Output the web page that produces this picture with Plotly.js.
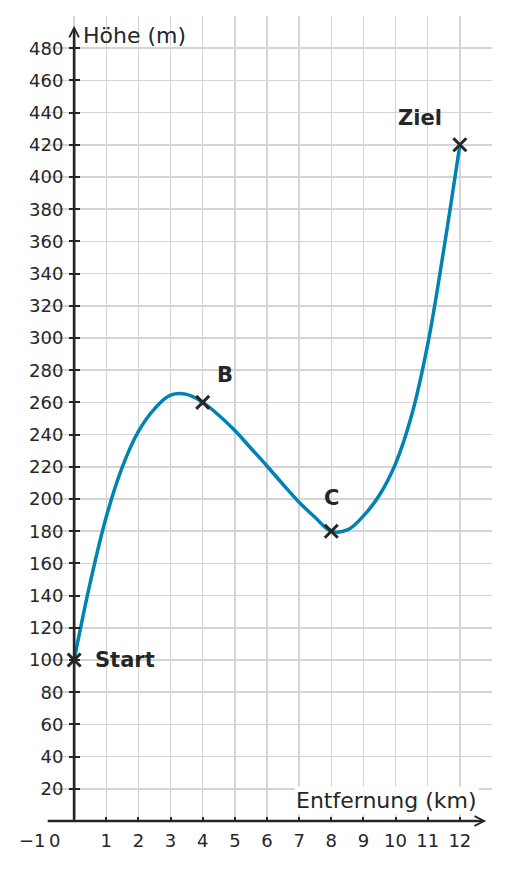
<!DOCTYPE html>
<html>
<head>
<meta charset="utf-8">
<script src="https://cdn.plot.ly/plotly-3.0.1.min.js"></script>
<style>
  body { margin: 0; background: #fff; }
  #hoehe { width: 510px; height: 870px; }
</style>
</head>
<body>
<div id="hoehe"></div>
<script>
  // Höhenprofil (alle 0,5 km)
  const entfernung = [0, 0.5, 1, 1.5, 2, 2.5, 3, 3.5, 4, 4.5, 5, 5.5, 6, 6.5, 7, 7.5, 8, 8.5, 9, 9.5, 10, 10.5, 11, 11.5, 12];
  const hoehe = [100, 148, 189, 220, 242, 256, 264.5, 265, 260, 252, 242.5, 231.5, 220.5, 209, 198, 188.5, 180, 180.8, 189.5, 202.5, 222, 252, 296, 355, 420];

  const punkteX = [0, 4, 8, 12];
  const punkteY = [100, 260, 180, 420];
  const punktNamen = ["Start", "B", "C", "Ziel"];

  const xTicks = [-1, 0, 1, 2, 3, 4, 5, 6, 7, 8, 9, 10, 11, 12];
  const yTicks = [20, 40, 60, 80, 100, 120, 140, 160, 180, 200, 220, 240, 260, 280, 300, 320, 340, 360, 380, 400, 420, 440, 460, 480];

  const dunkel = "#262626";
  const schrift = "DejaVu Sans, Arial, sans-serif";

  const kurve = {
    x: entfernung,
    y: hoehe,
    mode: "lines",
    type: "scatter",
    line: { color: "#0083b3", width: 3.5, shape: "spline", smoothing: 1.1 },
    hoverinfo: "none",
  };

  const punkte = {
    x: punkteX,
    y: punkteY,
    mode: "markers",
    type: "scatter",
    marker: {
      symbol: "x-thin",
      size: 13,
      color: dunkel,
      line: { color: dunkel, width: 3 },
    },
    cliponaxis: false,
    hoverinfo: "none",
  };

  // Beschriftungen der Punkte
  const labelPos = {
    Start: { x: 0.6, y: 100, xanchor: "left" },
    B: { x: 4.69, y: 277, xanchor: "center" },
    C: { x: 8.0, y: 200.5, xanchor: "center" },
    Ziel: { x: 10.76, y: 436.5, xanchor: "center" },
  };

  const annotations = punktNamen.map((name) => ({
    x: labelPos[name].x,
    y: labelPos[name].y,
    xref: "x",
    yref: "y",
    text: "<b>" + name + "</b>",
    showarrow: false,
    xanchor: labelPos[name].xanchor,
    yanchor: "middle",
    font: { family: schrift, size: 21, color: dunkel },
  }));

  // Achsen mit Pfeilspitzen
  annotations.push({
    x: 12.82, y: 0, ax: -0.87, ay: 0,
    xref: "x", yref: "y", axref: "x", ayref: "y",
    text: "", showarrow: true,
    arrowhead: 5, arrowsize: 0.7, arrowwidth: 2.7, arrowcolor: dunkel,
    standoff: 0,
  });
  annotations.push({
    x: 0, y: 494, ax: 0, ay: 0,
    xref: "x", yref: "y", axref: "x", ayref: "y",
    text: "", showarrow: true,
    arrowhead: 5, arrowsize: 0.7, arrowwidth: 2.7, arrowcolor: dunkel,
    standoff: 0,
  });

  // Achsentitel
  annotations.push({
    x: 0.22, y: 488, xref: "x", yref: "y",
    text: "Höhe (m)", showarrow: false,
    xanchor: "left", yanchor: "middle",
    font: { family: schrift, size: 22, color: dunkel },
  });
  annotations.push({
    x: 12.6, y: 13, xref: "x", yref: "y",
    text: "Entfernung (km)", showarrow: false,
    xanchor: "right", yanchor: "middle",
    bgcolor: "white", borderpad: 1,
    font: { family: schrift, size: 22, color: dunkel },
  });

  // −1 und 0 stehen links neben ihren Strichen
  annotations.push({
    x: (32.5 - 42) / 450, y: 0, xref: "paper", yref: "y", yshift: -19,
    text: "−1", showarrow: false, xanchor: "center", yanchor: "middle",
    font: { family: schrift, size: 18, color: dunkel },
  });
  annotations.push({
    x: -0.61, y: 0, xref: "x", yref: "y", yshift: -19,
    text: "0", showarrow: false, xanchor: "center", yanchor: "middle",
    font: { family: schrift, size: 18, color: dunkel },
  });

  const layout = {
    width: 510,
    height: 870,
    margin: { l: 42, r: 18, t: 16, b: 49 },
    paper_bgcolor: "white",
    plot_bgcolor: "white",
    showlegend: false,
    font: { family: schrift, size: 18, color: dunkel },
    xaxis: {
      range: [-1, 13],
      domain: [0, 1],
      tickmode: "array",
      tickvals: xTicks,
      ticktext: xTicks.map((v) => (v < 1 ? "" : String(v))),
      showgrid: true,
      gridcolor: "#d4d4d4",
      gridwidth: 1.5,
      zeroline: false,
      showline: false,
      ticks: "inside",
      ticklen: 4,
      tickwidth: 2,
      tickcolor: dunkel,
      ticklabelstandoff: 7,
      tickfont: { family: schrift, size: 18, color: dunkel },
      fixedrange: true,
    },
    yaxis: {
      range: [0, 500],
      anchor: "free",
      position: 38 / 450,
      tickmode: "array",
      tickvals: yTicks,
      ticktext: yTicks.map(String),
      showgrid: true,
      gridcolor: "#d4d4d4",
      gridwidth: 1.5,
      zeroline: false,
      showline: false,
      ticks: "outside",
      ticklen: 11,
      tickwidth: 2,
      tickcolor: dunkel,
      ticklabelstandoff: 2,
      tickfont: { family: schrift, size: 18, color: dunkel },
      fixedrange: true,
    },
    annotations: annotations,
  };

  Plotly.newPlot("hoehe", [kurve, punkte], layout, { displayModeBar: false, staticPlot: true });
</script>
</body>
</html>
